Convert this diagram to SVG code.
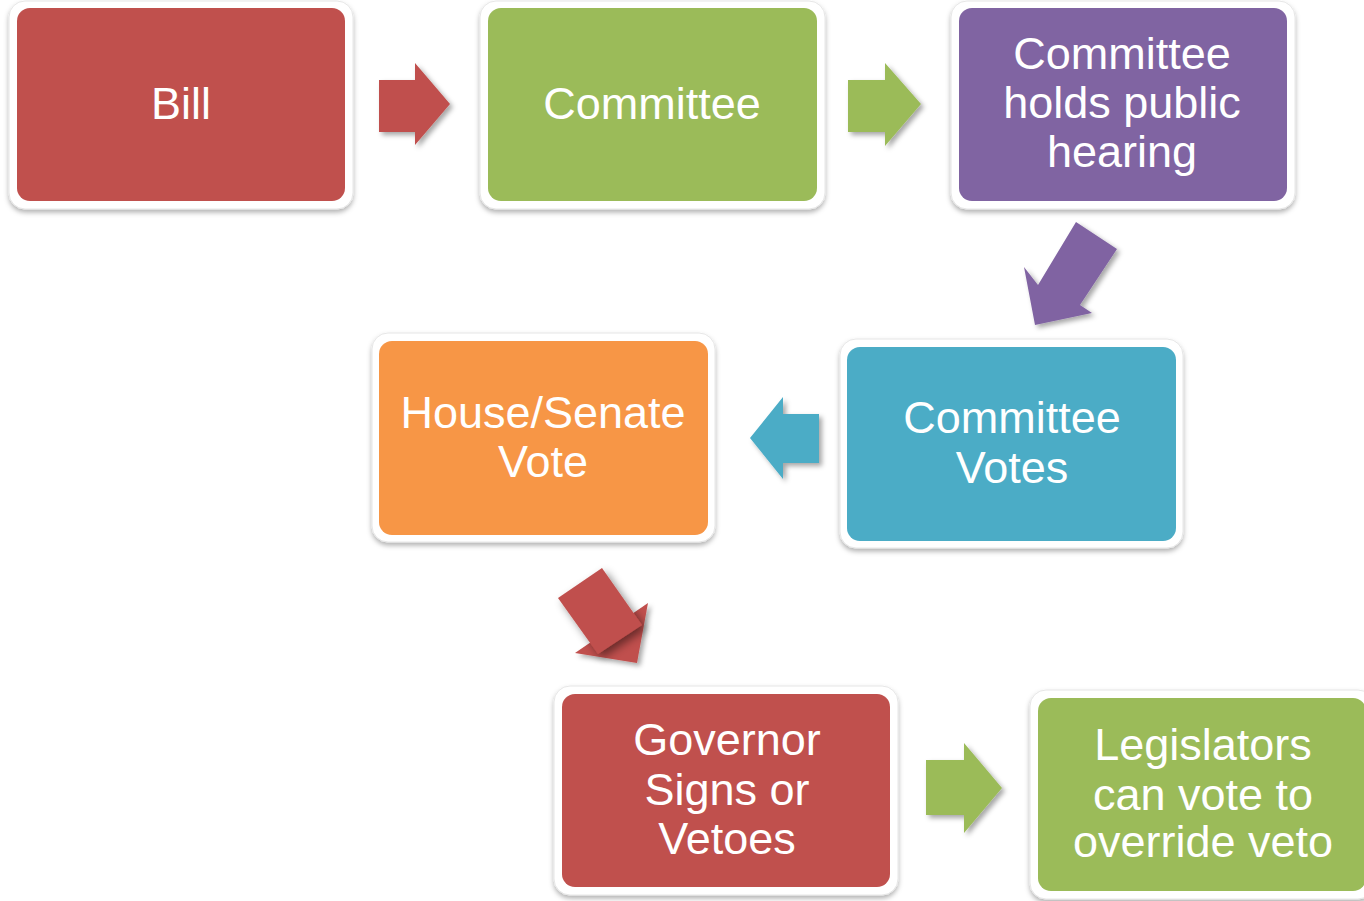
<svg xmlns="http://www.w3.org/2000/svg" width="1364" height="901" viewBox="0 0 1364 901">
<defs>
<filter id="sh" x="-10%" y="-10%" width="125%" height="130%">
<feDropShadow dx="0" dy="3" stdDeviation="2.5" flood-color="#000" flood-opacity="0.3"/>
</filter>
<filter id="ash" x="-20%" y="-20%" width="150%" height="150%">
<feDropShadow dx="3" dy="3" stdDeviation="2.5" flood-color="#000" flood-opacity="0.35"/>
</filter>
<filter id="fold" x="-20%" y="-20%" width="150%" height="150%">
<feDropShadow dx="4" dy="4" stdDeviation="4" flood-color="#000" flood-opacity="0.45"/>
</filter>
</defs>
<style>
.frame{fill:#fff;stroke:#e6e6e6;stroke-width:1}
.lbl{font-family:"Liberation Sans",Arial,sans-serif;font-size:45px;fill:#fff;text-anchor:middle}
.red{fill:#C0504D}.green{fill:#9BBB59}.purple{fill:#8064A2}.orange{fill:#F79646}.teal{fill:#4BACC6}
</style>
<rect width="1364" height="901" fill="#fff"/>

<g id="connectors">
<polygon class="red" filter="url(#ash)" points="379,80 415,80 415,63 450,104 415,145 415,132 379,132"/>
<polygon class="green" filter="url(#ash)" points="848,80 885,80 885,63 921,104 885,146 885,132 848,132"/>
<polygon class="purple" filter="url(#ash)" points="1076,222 1117,249 1080,305 1092,313 1035,325 1024,267 1038,285"/>
<polygon class="teal" filter="url(#ash)" points="819,414 783,414 783,397 750,438 783,479 783,463 819,463"/>
<g id="fold-arrow">
<polygon class="red" filter="url(#ash)" points="648,603 637,663 575,653"/>
<polygon class="red" filter="url(#fold)" points="558,598 602,568 642,625 598,654"/>
</g>
<polygon class="green" filter="url(#ash)" points="926,760 964,760 964,743 1002,788 964,833 964,815 926,815"/>
</g>

<g id="bill">
<rect class="frame" filter="url(#sh)" x="9" y="1" width="344" height="208" rx="16"/>
<rect class="red" x="17" y="8" width="328" height="193" rx="13"/>
<text class="lbl" x="181" y="119">Bill</text>
</g>

<g id="committee">
<rect class="frame" filter="url(#sh)" x="480" y="1" width="345" height="208" rx="16"/>
<rect class="green" x="488" y="8" width="329" height="193" rx="13"/>
<text class="lbl" x="652" y="119">Committee</text>
</g>

<g id="hearing">
<rect class="frame" filter="url(#sh)" x="951" y="1" width="344" height="208" rx="16"/>
<rect class="purple" x="959" y="8" width="328" height="193" rx="13"/>
<text class="lbl" x="1122" y="69">Committee</text>
<text class="lbl" x="1122" y="118">holds public</text>
<text class="lbl" x="1122" y="167">hearing</text>
</g>

<g id="committee-votes">
<rect class="frame" filter="url(#sh)" x="840" y="339" width="343" height="209" rx="16"/>
<rect class="teal" x="847" y="347" width="329" height="194" rx="13"/>
<text class="lbl" x="1012" y="433">Committee</text>
<text class="lbl" x="1012" y="483">Votes</text>
</g>

<g id="house-senate">
<rect class="frame" filter="url(#sh)" x="372" y="333" width="343" height="209" rx="16"/>
<rect class="orange" x="379" y="341" width="329" height="194" rx="13"/>
<text class="lbl" x="543" y="428">House/Senate</text>
<text class="lbl" x="543" y="477">Vote</text>
</g>

<g id="governor">
<rect class="frame" filter="url(#sh)" x="554" y="686" width="344" height="209" rx="16"/>
<rect class="red" x="562" y="694" width="328" height="193" rx="13"/>
<text class="lbl" x="727" y="755">Governor</text>
<text class="lbl" x="727" y="805">Signs or</text>
<text class="lbl" x="727" y="854">Vetoes</text>
</g>

<g id="legislators">
<rect class="frame" filter="url(#sh)" x="1030" y="690" width="344" height="209" rx="16"/>
<rect class="green" x="1038" y="698" width="328" height="193" rx="13"/>
<text class="lbl" x="1203" y="760">Legislators</text>
<text class="lbl" x="1203" y="810">can vote to</text>
<text class="lbl" x="1203" y="857">override veto</text>
</g>
</svg>
